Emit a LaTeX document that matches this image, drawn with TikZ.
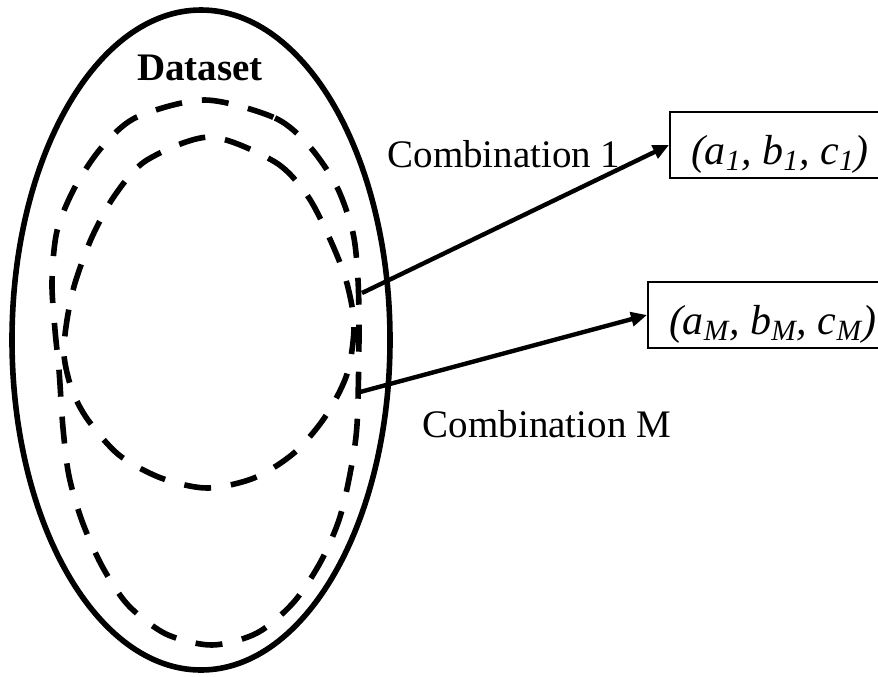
\documentclass[tikz,border=0pt]{standalone}
\usepackage{fontspec}
\setmainfont{Liberation Serif}
\usetikzlibrary{arrows.meta,positioning}
\tikzset{setline/.style={line width=2.8pt},
  subset/.style={line width=2.8pt,dash pattern=on 13.5pt off 10pt},
  link/.style={-{Triangle[length=8pt,width=7pt]},line width=2.2pt},
  tuple/.style={draw,line width=1pt,inner xsep=10.5pt,inner ysep=0pt,
  text height=26pt,text depth=7pt,font=\fontsize{21}{24}\selectfont\itshape},
  clabel/.style={font=\fontsize{19.5}{23}\selectfont}}

\begin{document}
\begin{tikzpicture}[x=0.5pt,y=-0.5pt]
 \useasboundingbox (0,0) rectangle (878,676);
 % whole dataset and the two subsets
 \draw[setline] (201,340) ellipse [x radius=189, y radius=330];
 \draw[subset] plot[smooth cycle] coordinates {(205,100) (275,118) (310,147)
  (337,187) (353,233) (358,280) (359,337) (357,425) (350,474) (339,520)
  (320,563) (293,603) (257,633) (212,645) (166,634) (128,605) (102,566)
  (82,521) (69,476) (63,428) (59,370) (55,330) (52,282) (57,231) (75,187)
  (102,147) (137,117)};
 \draw[subset] plot[smooth cycle] coordinates {(210,137) (275,162) (307,195)
  (329,237) (346,280) (354,325) (347,374) (325,417) (294,453) (254,478)
  (207,488) (161,478) (119,455) (88,420) (72,390) (64,355) (67,320)
  (75,283) (92,237) (115,195) (147,160)};
 \node[font=\fontsize{19.5}{23}\selectfont\bfseries,anchor=base] (ds) at (200,80) {Dataset};
 \coordinate (s1) at (362,293);
 \coordinate (sm) at (360,392);
 \node[tuple,anchor=west] (t1) at (669,145) {(a\textsubscript{1}, b\textsubscript{1}, c\textsubscript{1})};
 \node[tuple,anchor=west] (tm) at (647,315) {(a\textsubscript{M}, b\textsubscript{M}, c\textsubscript{M})};
 \draw[link] (s1) -- (t1.west);
 \draw[link] (sm) -- (tm.west);
 \node[clabel,anchor=base] (l1) at (504,167) {Combination 1};
 \node[clabel,anchor=base] (lm) at (547,437) {Combination M};
\end{tikzpicture}
\end{document}
